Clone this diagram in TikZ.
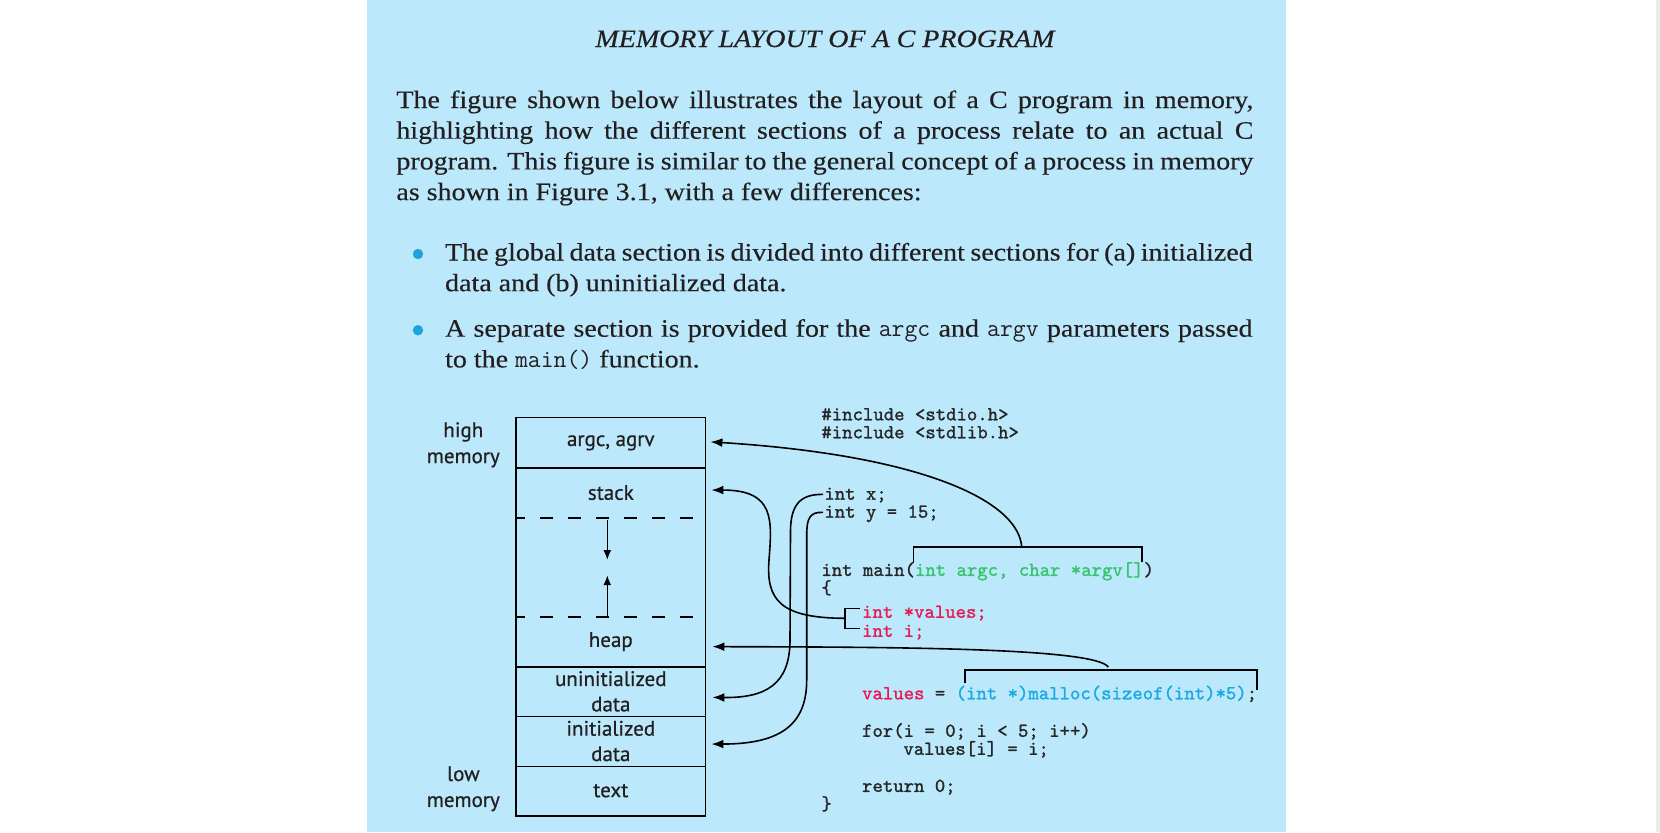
\documentclass[tikz,border=0pt]{standalone}
\usepackage{fontspec}
\setmainfont{Liberation Serif}[FakeStretch=1.12, FakeBold=0.3]
\newfontfamily\lblfont{PT Sans}[FakeBold=0.6]
\newfontfamily\codefont{Latin Modern Mono}[FakeBold=1.2]
\usetikzlibrary{arrows.meta,positioning}

\definecolor{panelblue}{HTML}{BBE9FB}
\definecolor{bulletblue}{HTML}{1FA3DE}
\definecolor{argsgreen}{HTML}{36C46C}
\definecolor{varred}{HTML}{E81A52}
\definecolor{alloccyan}{HTML}{1AA9E2}
\definecolor{inkgray}{HTML}{231F20}

\tikzset{
    bodyline/.style={font=\fontsize{12.5}{15.35}\selectfont, text=inkgray, inner sep=0pt, anchor=base west},
    sect/.style={font=\lblfont\fontsize{10.5}{12.7}\selectfont, text=inkgray, inner sep=0pt,
        minimum width=94.2pt, minimum height=24.85pt, align=center},
    memlbl/.style={font=\lblfont\fontsize{10.5}{13}\selectfont, text=inkgray, inner sep=0pt, align=center},
    code/.style={font=\codefont\fontsize{9.9}{11}\selectfont, text=black!85, inner sep=0pt,
        anchor=west, text height=1.5ex, text depth=.35ex},
    conn/.style={line width=0.8pt, -{Latex[length=6pt,width=4.4pt]}},
    gaparr/.style={line width=0.8pt, -{Latex[length=5pt,width=4pt]}},
    brk/.style={line width=0.8pt},
    wall/.style={line width=0.8pt}
}

\begin{document}
\begin{tikzpicture}[x=0.5pt, y=-0.5pt]
    \useasboundingbox (0,0) rectangle (1660,832);
    \fill[white] (0,0) rectangle (1660,832);
    \fill[black!8] (1656,0) rectangle (1660,832);
    \fill[panelblue] (367,0) rectangle (1286,832);

    % titulo y parrafo
    \node[bodyline, anchor=base] (title) at (825,47) {\itshape MEMORY LAYOUT OF A C PROGRAM};
    \node[bodyline] (l1) at (396,108) {\makebox[428.5pt][s]{The figure shown below illustrates the layout of a C program in memory,}};
    \node[bodyline] (l2) at (396,138.7) {\makebox[428.5pt][s]{highlighting how the different sections of a process relate to an actual C}};
    \node[bodyline] (l3) at (396,169.4) {\makebox[428.5pt][s]{program. This figure is similar to the general concept of a process in memory}};
    \node[bodyline] (l4) at (396,200.1) {as shown in Figure 3.1, with a few differences:};

    % puntos
    \fill[bulletblue] (418,254) circle (2.6pt);
    \node[bodyline] (b1a) at (444.7,260.5) {\makebox[403.75pt][s]{The global data section is divided into different sections for (a) initialized}};
    \node[bodyline] (b1b) at (444.7,291.2) {data and (b) uninitialized data.};
    \fill[bulletblue] (418,330.2) circle (2.6pt);
    \node[bodyline] (b2a) at (444.7,336.7) {\makebox[403.75pt][s]{A separate section is provided for the \texttt{argc} and \texttt{argv} parameters passed}};
    \node[bodyline] (b2b) at (444.7,367.4) {to the \texttt{main()} function.};

    % memoria
    \node[sect] (argc) at (610.8,442.85) {argc, agrv};
    \node[sect] (stack) at (610.8,492.55) {stack};
    \node[sect, minimum height=49.7pt] (gap) at (610.8,567.1) {};
    \node[sect] (heap) at (610.8,641.65) {heap};
    \node[sect] (uninit) at (610.8,691.35) {uninitialized\\data};
    \node[sect] (init) at (610.8,741.05) {initialized\\data};
    \node[sect] (textsec) at (610.8,790.75) {text};
    \draw[wall] (argc.north west) rectangle (textsec.south east);
    \foreach \s in {argc,heap,uninit,init} { \draw[wall] (\s.south west) -- (\s.south east); }
    \foreach \s in {stack,gap} { \draw[wall, dash pattern=on 6.5pt off 7.5pt, dash phase=2pt] (\s.south west) -- (\s.south east); }
    \draw[gaparr] ([xshift=-1.75pt,yshift=-1.5pt]gap.north) -- ++(0,40);
    \draw[gaparr] ([xshift=-1.75pt]gap.south) -- ++(0,-42);
    \node[memlbl, left=8pt of argc, yshift=-1pt] (hmem) {high\\memory};
    \node[memlbl, left=8pt of textsec, yshift=1pt] (lmem) {low\\memory};

    % codigo
    \node[code] (inca) at (821,415) {\#include <stdio.h>};
    \node[code] (incb) at (821,433) {\#include <stdlib.h>};
    \node[code] (xdecl) at (824,494.4) {int x;};
    \node[code] (ydecl) at (824,512.4) {int y = 15;};
    \node[code] (mainsig) at (821,570.6) {int main(\textcolor{argsgreen}{int argc, char *argv[]})};
    \node[code] (lbrace) at (821,588.6) {\{};
    \node[code, text=varred] (valdecl) at (861.7,612.5) {int *values;};
    \node[code, text=varred] (idecl) at (861.7,631.5) {int i;};
    \node[code] (alloc) at (861.7,694) {\textcolor{varred}{values} = \textcolor{alloccyan}{(int *)malloc(sizeof(int)*5)};};
    \node[code] (forloop) at (861.7,731.5) {for(i = 0; i < 5; i++)};
    \node[code] (assign) at (903,749.5) {values[i] = i;};
    \node[code] (ret) at (861.7,786.6) {return 0;};
    \node[code] (rbrace) at (821,804.6) {\}};

    % corchetes
    \draw[brk] (913.3,563) -- (913.3,546.7) -- (1141.7,546.7) -- (1141.7,562);
    \draw[brk] (860,608.3) -- (845,608.3) -- (845,628.3) -- (860,628.3);
    \draw[brk] (965,683) -- (965,670) -- (1256.7,670) -- (1256.7,690);
    \coordinate (argvtop) at (1021.7,546.7);
    \coordinate (valbr) at (845,618.3);
    \coordinate (allocbr) at (1108.3,667);

    % flechas
    \draw[conn] (argvtop) .. controls (1018,500) and (920,455) .. ([xshift=2.5pt,yshift=0.5pt]argc.east);
    \draw[conn] (valbr) .. controls (780,618) and (766,600) .. (769,560)
        .. controls (772,520) and (775,490) .. ([xshift=3pt,yshift=1.25pt]stack.east);
    \draw[conn] (allocbr) .. controls (1095,648) and (900,647) .. ([xshift=3.5pt,yshift=-2.5pt]heap.east);
    \draw[conn] ([xshift=-0.5pt]xdecl.west) .. controls (800,494) and (791,505) .. (790.5,530) -- (790,640)
        .. controls (790,685) and (765,698) .. ([xshift=3.5pt,yshift=-3pt]uninit.east);
    \draw[conn] ([xshift=-0.5pt]ydecl.west) .. controls (810,511.7) and (806.7,518) .. (806.7,535) -- (806.7,680)
        .. controls (806.7,725) and (780,744) .. ([xshift=3pt,yshift=-1.5pt]init.east);
\end{tikzpicture}
\end{document}
